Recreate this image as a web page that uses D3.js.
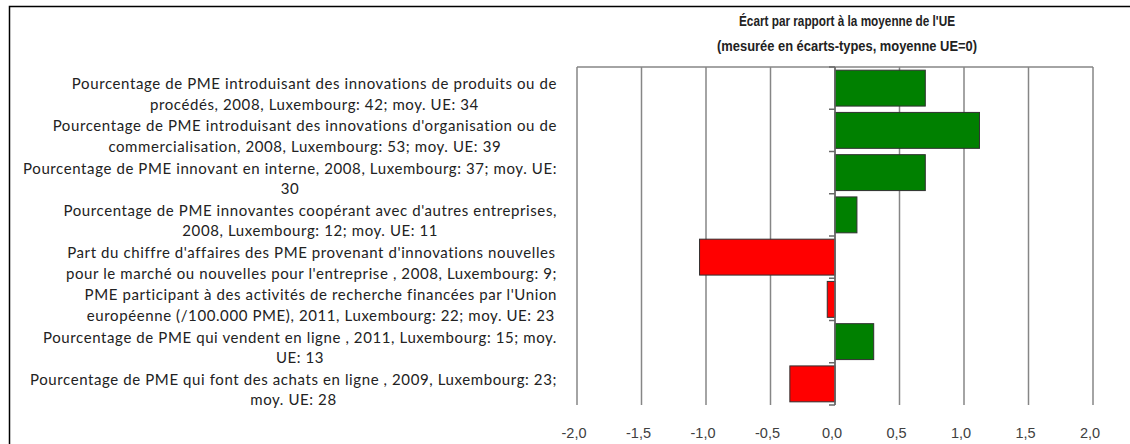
<!DOCTYPE html>
<meta charset="utf-8">
<script src="https://d3js.org/d3.v7.min.js"></script>
<style>
  body { margin: 0; background: #fff; }
</style>
<div id="chart"></div>
<script>

// category labels, already broken into the lines shown on the chart
var categories = [
  "Pourcentage de PME introduisant des innovations de produits ou de|procédés, 2008, Luxembourg: 42; moy. UE: 34",
  "Pourcentage de PME introduisant des innovations d'organisation ou de|commercialisation, 2008, Luxembourg: 53; moy. UE: 39",
  "Pourcentage de PME innovant en interne, 2008, Luxembourg: 37; moy. UE:|30",
  "Pourcentage de PME innovantes coopérant avec d'autres entreprises,|2008, Luxembourg: 12; moy. UE: 11",
  "Part du chiffre d'affaires des PME provenant d'innovations nouvelles|pour le marché ou nouvelles pour l'entreprise , 2008, Luxembourg: 9;",
  "PME participant à des activités de recherche financées par l'Union|européenne (/100.000 PME), 2011, Luxembourg: 22; moy. UE: 23",
  "Pourcentage de PME qui vendent en ligne , 2011, Luxembourg: 15; moy.|UE: 13",
  "Pourcentage de PME qui font des achats en ligne , 2009, Luxembourg: 23;|moy. UE: 28"
];

var values = [0.70, 1.12, 0.70, 0.17, -1.05, -0.06, 0.30, -0.35];

var xTicks = [-2, -1.5, -1, -0.5, 0, 0.5, 1, 1.5, 2];

var titleLines = ["Écart par rapport à la moyenne de l'UE", "(mesurée en écarts-types, moyenne UE=0)"];
var titleWidths = [216, 260];

var W = 1130, H = 444;
var plot = {left: 577, right: 1093, top: 67, bottom: 405};

var svg = d3.select("#chart").append("svg")
    .attr("width", W)
    .attr("height", H);

// outer frame (only top and left edges are inside the picture)
svg.append("path")
    .attr("d", "M9.5," + (H + 5) + "V6.5H" + (W + 5))
    .attr("fill", "none")
    .attr("stroke", "#000")
    .attr("stroke-width", 1.5);

var x = d3.scaleLinear().domain([-2, 2]).range([plot.left, plot.right]);
var y = d3.scaleBand()
    .domain(d3.range(categories.length))
    .range([plot.top, plot.bottom])
    .paddingInner(0.15)
    .paddingOuter(0.075);

// vertical gridlines
svg.append("g")
  .selectAll("line")
  .data(xTicks)
  .enter().append("line")
    .attr("x1", function(d) { return x(d); })
    .attr("x2", function(d) { return x(d); })
    .attr("y1", plot.top)
    .attr("y2", plot.bottom)
    .attr("stroke", "#868686")
    .attr("stroke-width", 1.5);

// top edge of plot area
svg.append("line")
    .attr("x1", plot.left).attr("x2", plot.right)
    .attr("y1", plot.top).attr("y2", plot.top)
    .attr("stroke", "#868686")
    .attr("stroke-width", 1.5);

// x tick labels
var fmt = function(d) { return d3.format(".1f")(d).replace(".", ",").replace("−", "-"); };
svg.append("g")
  .selectAll("text")
  .data(xTicks)
  .enter().append("text")
    .attr("x", function(d) { return x(d) - 3; })
    .attr("y", 433)
    .attr("dy", "0.35em")
    .attr("text-anchor", "middle")
    .style("font-family", "Liberation Sans, Arial, sans-serif")
    .style("font-size", "14.5px")
    .style("fill", "#404040")
    .text(fmt);

// bars
svg.append("g")
  .selectAll("rect")
  .data(values)
  .enter().append("rect")
    .attr("x", function(d) { return x(Math.min(0, d)); })
    .attr("y", function(d, i) { return y(i); })
    .attr("width", function(d) { return Math.abs(x(d) - x(0)); })
    .attr("height", y.bandwidth())
    .attr("fill", function(d) { return d < 0 ? "#ff0000" : "#008000"; })
    .attr("stroke", "#303030")
    .attr("stroke-width", 1);

// category axis at zero with ticks between categories
var yAxis = svg.append("g");
yAxis.append("line")
    .attr("x1", x(0)).attr("x2", x(0))
    .attr("y1", plot.top).attr("y2", plot.bottom)
    .attr("stroke", "#686868")
    .attr("stroke-width", 1.5);
yAxis.selectAll(".tk")
  .data(d3.range(categories.length + 1))
  .enter().append("line")
    .attr("class", "tk")
    .attr("x1", x(0) - 6).attr("x2", x(0))
    .attr("y1", function(i) { return plot.top + i * y.step(); })
    .attr("y2", function(i) { return plot.top + i * y.step(); })
    .attr("stroke", "#686868")
    .attr("stroke-width", 1.5);

// category labels: block right aligned, lines centred within it
var labelRight = 557;
var lab = svg.append("g")
    .style("font-family", "Lato, 'Open Sans', sans-serif")
    .style("font-size", "15px")
    .style("letter-spacing", "0.6px")
    .style("fill", "#222");

categories.forEach(function(c, i) {
  var lines = c.split("|");
  var cy = y(i) + y.bandwidth() / 2 + 6;
  var g = lab.append("g");
  var texts = lines.map(function(t, j) {
    return g.append("text")
        .attr("y", cy + (j - (lines.length - 1) / 2) * 20.5)
        .attr("dy", "0.35em")
        .attr("text-anchor", "middle")
        .text(t);
  });
  var wMax = d3.max(texts, function(t) { return t.node().getComputedTextLength(); });
  texts.forEach(function(t) { t.attr("x", labelRight - wMax / 2); });
});

// chart title
svg.append("g")
  .selectAll("text")
  .data(titleLines)
  .enter().append("text")
    .attr("x", 847)
    .attr("y", function(d, i) { return 21 + i * 25; })
    .attr("dy", "0.35em")
    .attr("text-anchor", "middle")
    .attr("textLength", function(d, i) { return titleWidths[i]; })
    .attr("lengthAdjust", "spacingAndGlyphs")
    .style("font-family", "Liberation Sans, Arial, sans-serif")
    .style("font-weight", "bold")
    .style("font-size", "15px")
    .style("fill", "#222")
    .text(function(d) { return d; });

</script>
